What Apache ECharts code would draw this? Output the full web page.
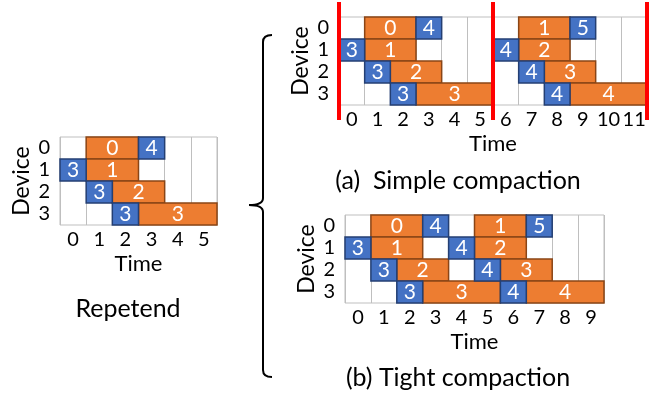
<!DOCTYPE html>
<html><head><meta charset="utf-8">
<script src="https://cdn.jsdelivr.net/npm/echarts@6/dist/echarts.min.js"></script>
<style>html,body{margin:0;padding:0;background:#fff}#c{width:670px;height:401px}</style>
</head><body><div id="c"></div>
<script>
// ---- data ----
const devices = ['0', '1', '2', '3'];
const repetendTimes = ['0', '1', '2', '3', '4', '5'];
const simpleTimes = ['0', '1', '2', '3', '4', '5', '6', '7', '8', '9', '10', '11'];
const tightTimes = ['0', '1', '2', '3', '4', '5', '6', '7', '8', '9'];
// tasks: [device, start, end, label]
const repetendForward = [[0, 1, 3, 0], [1, 1, 3, 1], [2, 2, 4, 2], [3, 3, 6, 3]];
const repetendBackward = [[0, 3, 4, 4], [1, 0, 1, 3], [2, 1, 2, 3], [3, 2, 3, 3]];
const simpleForward = [[0, 1, 3, 0], [1, 1, 3, 1], [2, 2, 4, 2], [3, 3, 6, 3],
                       [0, 7, 9, 1], [1, 7, 9, 2], [2, 8, 10, 3], [3, 9, 12, 4]];
const simpleBackward = [[0, 3, 4, 4], [1, 0, 1, 3], [2, 1, 2, 3], [3, 2, 3, 3],
                        [0, 9, 10, 5], [1, 6, 7, 4], [2, 7, 8, 4], [3, 8, 9, 4]];
const tightForward = [[0, 1, 3, 0], [1, 1, 3, 1], [2, 2, 4, 2], [3, 3, 6, 3],
                      [0, 5, 7, 1], [1, 5, 7, 2], [2, 6, 8, 3], [3, 7, 10, 4]];
const tightBackward = [[0, 3, 4, 4], [1, 0, 1, 3], [2, 1, 2, 3], [3, 2, 3, 3],
                       [0, 7, 8, 5], [1, 4, 5, 4], [2, 5, 6, 4], [3, 6, 7, 4]];
const simpleBoundaries = [0, 6, 12];
const captions = ['Repetend', '(a)  Simple compaction', '(b) Tight compaction'];

// ---- style ----
const FONT = 'Lato';
const ORANGE = '#ED7D31', ORANGE_EDGE = '#8A4516';
const BLUE = '#4472C4', BLUE_EDGE = '#243F73';
const GRIDC = '#BFBFBF';

function taskRender(fill, edge) {
  return function (params, api) {
    const d = api.value(0), s = api.value(1), e = api.value(2), lab = api.value(3);
    const p0 = api.coord([s, d]);
    const p1 = api.coord([e, d]);
    const h = api.size([0, 1])[1];
    return {
      type: 'rect',
      shape: { x: p0[0], y: p0[1] - h / 2, width: p1[0] - p0[0], height: h },
      style: { fill: fill, stroke: edge, lineWidth: 1.5 },
      textContent: { style: { text: String(lab), fill: '#fff', fontSize: 21, fontFamily: FONT } },
      textConfig: { position: 'inside' }
    };
  };
}

const grids = [
  { left: 60, top: 137, width: 157, height: 88 },
  { left: 339, top: 17, width: 308, height: 88 },
  { left: 345, top: 215, width: 259, height: 88 }
];
const timeSets = [repetendTimes, simpleTimes, tightTimes];
const fwd = [repetendForward, simpleForward, tightForward];
const bwd = [repetendBackward, simpleBackward, tightBackward];

const option = { animation: false, grid: [], xAxis: [], yAxis: [], series: [], graphic: [] };
grids.forEach((g, i) => {
  option.grid.push(Object.assign({ show: true, borderColor: GRIDC, borderWidth: 1, backgroundColor: 'transparent' }, g));
  const n = timeSets[i].length;
  option.xAxis.push({ type: 'value', gridIndex: i, min: 0, max: n, interval: 1,
    axisLabel: { show: false }, axisLine: { show: false }, axisTick: { show: false },
    splitLine: { show: true, lineStyle: { color: GRIDC, width: 1 } } });
  option.xAxis.push({ type: 'category', gridIndex: i, data: timeSets[i], boundaryGap: true, position: 'bottom',
    axisLine: { show: false }, axisTick: { show: false }, splitLine: { show: false },
    axisLabel: { color: '#000', fontSize: 20, fontFamily: FONT, margin: 5, interval: 0 },
    name: 'Time', nameLocation: 'middle', nameGap: 28,
    nameTextStyle: { color: '#000', fontSize: 22, fontFamily: FONT } });
  option.yAxis.push({ type: 'category', gridIndex: i, data: devices, inverse: true,
    axisLine: { show: false }, axisTick: { show: false }, splitLine: { show: false },
    axisLabel: { color: '#000', fontSize: 20, fontFamily: FONT, margin: 10, interval: 0 },
    name: 'Device', nameLocation: 'middle', nameRotate: 90, nameGap: 27,
    nameTextStyle: { color: '#000', fontSize: 23, fontFamily: FONT } });
  option.series.push({ type: 'custom', xAxisIndex: 2 * i, yAxisIndex: i, renderItem: taskRender(ORANGE, ORANGE_EDGE),
    encode: { x: [1, 2], y: 0 }, data: fwd[i], z: 3 });
  option.series.push({ type: 'custom', xAxisIndex: 2 * i, yAxisIndex: i, renderItem: taskRender(BLUE, BLUE_EDGE),
    encode: { x: [1, 2], y: 0 }, data: bwd[i], z: 3 });
});
option.grid.push({ left: 339, top: 2, width: 308, height: 118, show: false });
option.xAxis.push({ type: 'value', gridIndex: 3, min: 0, max: 12, show: false });
option.yAxis.push({ type: 'value', gridIndex: 3, min: 0, max: 1, show: false });
option.series.push({ type: 'custom', xAxisIndex: 6, yAxisIndex: 3, z: 10,
  data: simpleBoundaries.map(v => [v]),
  encode: { x: 0 },
  renderItem: function (params, api) {
    const x = api.value(0);
    const a = api.coord([x, 0]), b = api.coord([x, 1]);
    return { type: 'line', shape: { x1: a[0], y1: a[1], x2: b[0], y2: b[1] }, style: { stroke: '#FF0000', lineWidth: 4 } };
  } });

const capPos = [[128, 309], [458, 181], [458, 378]];
captions.forEach((t, i) => {
  option.graphic.push({ type: 'text', x: capPos[i][0], y: capPos[i][1],
    style: { text: t, fill: '#000', fontSize: 25, fontFamily: FONT, align: 'center', verticalAlign: 'middle' } });
});
// brace
const braceStyle = { fill: 'none', stroke: '#000', lineWidth: 2 };
option.graphic.push({ type: 'bezierCurve', shape: { x1: 272, y1: 35, cpx1: 263, cpy1: 35, x2: 263, y2: 42 }, style: braceStyle });
option.graphic.push({ type: 'line', shape: { x1: 263, y1: 42, x2: 263, y2: 198 }, style: braceStyle });
option.graphic.push({ type: 'bezierCurve', shape: { x1: 263, y1: 198, cpx1: 263, cpy1: 205, x2: 249, y2: 205 }, style: braceStyle });
option.graphic.push({ type: 'bezierCurve', shape: { x1: 249, y1: 205, cpx1: 263, cpy1: 205, x2: 263, y2: 212 }, style: braceStyle });
option.graphic.push({ type: 'line', shape: { x1: 263, y1: 212, x2: 263, y2: 370 }, style: braceStyle });
option.graphic.push({ type: 'bezierCurve', shape: { x1: 263, y1: 370, cpx1: 263, cpy1: 377, x2: 272, y2: 377 }, style: braceStyle });

const chart = echarts.init(document.getElementById('c'), null, { renderer: 'canvas' });
chart.setOption(option);
</script></body></html>
